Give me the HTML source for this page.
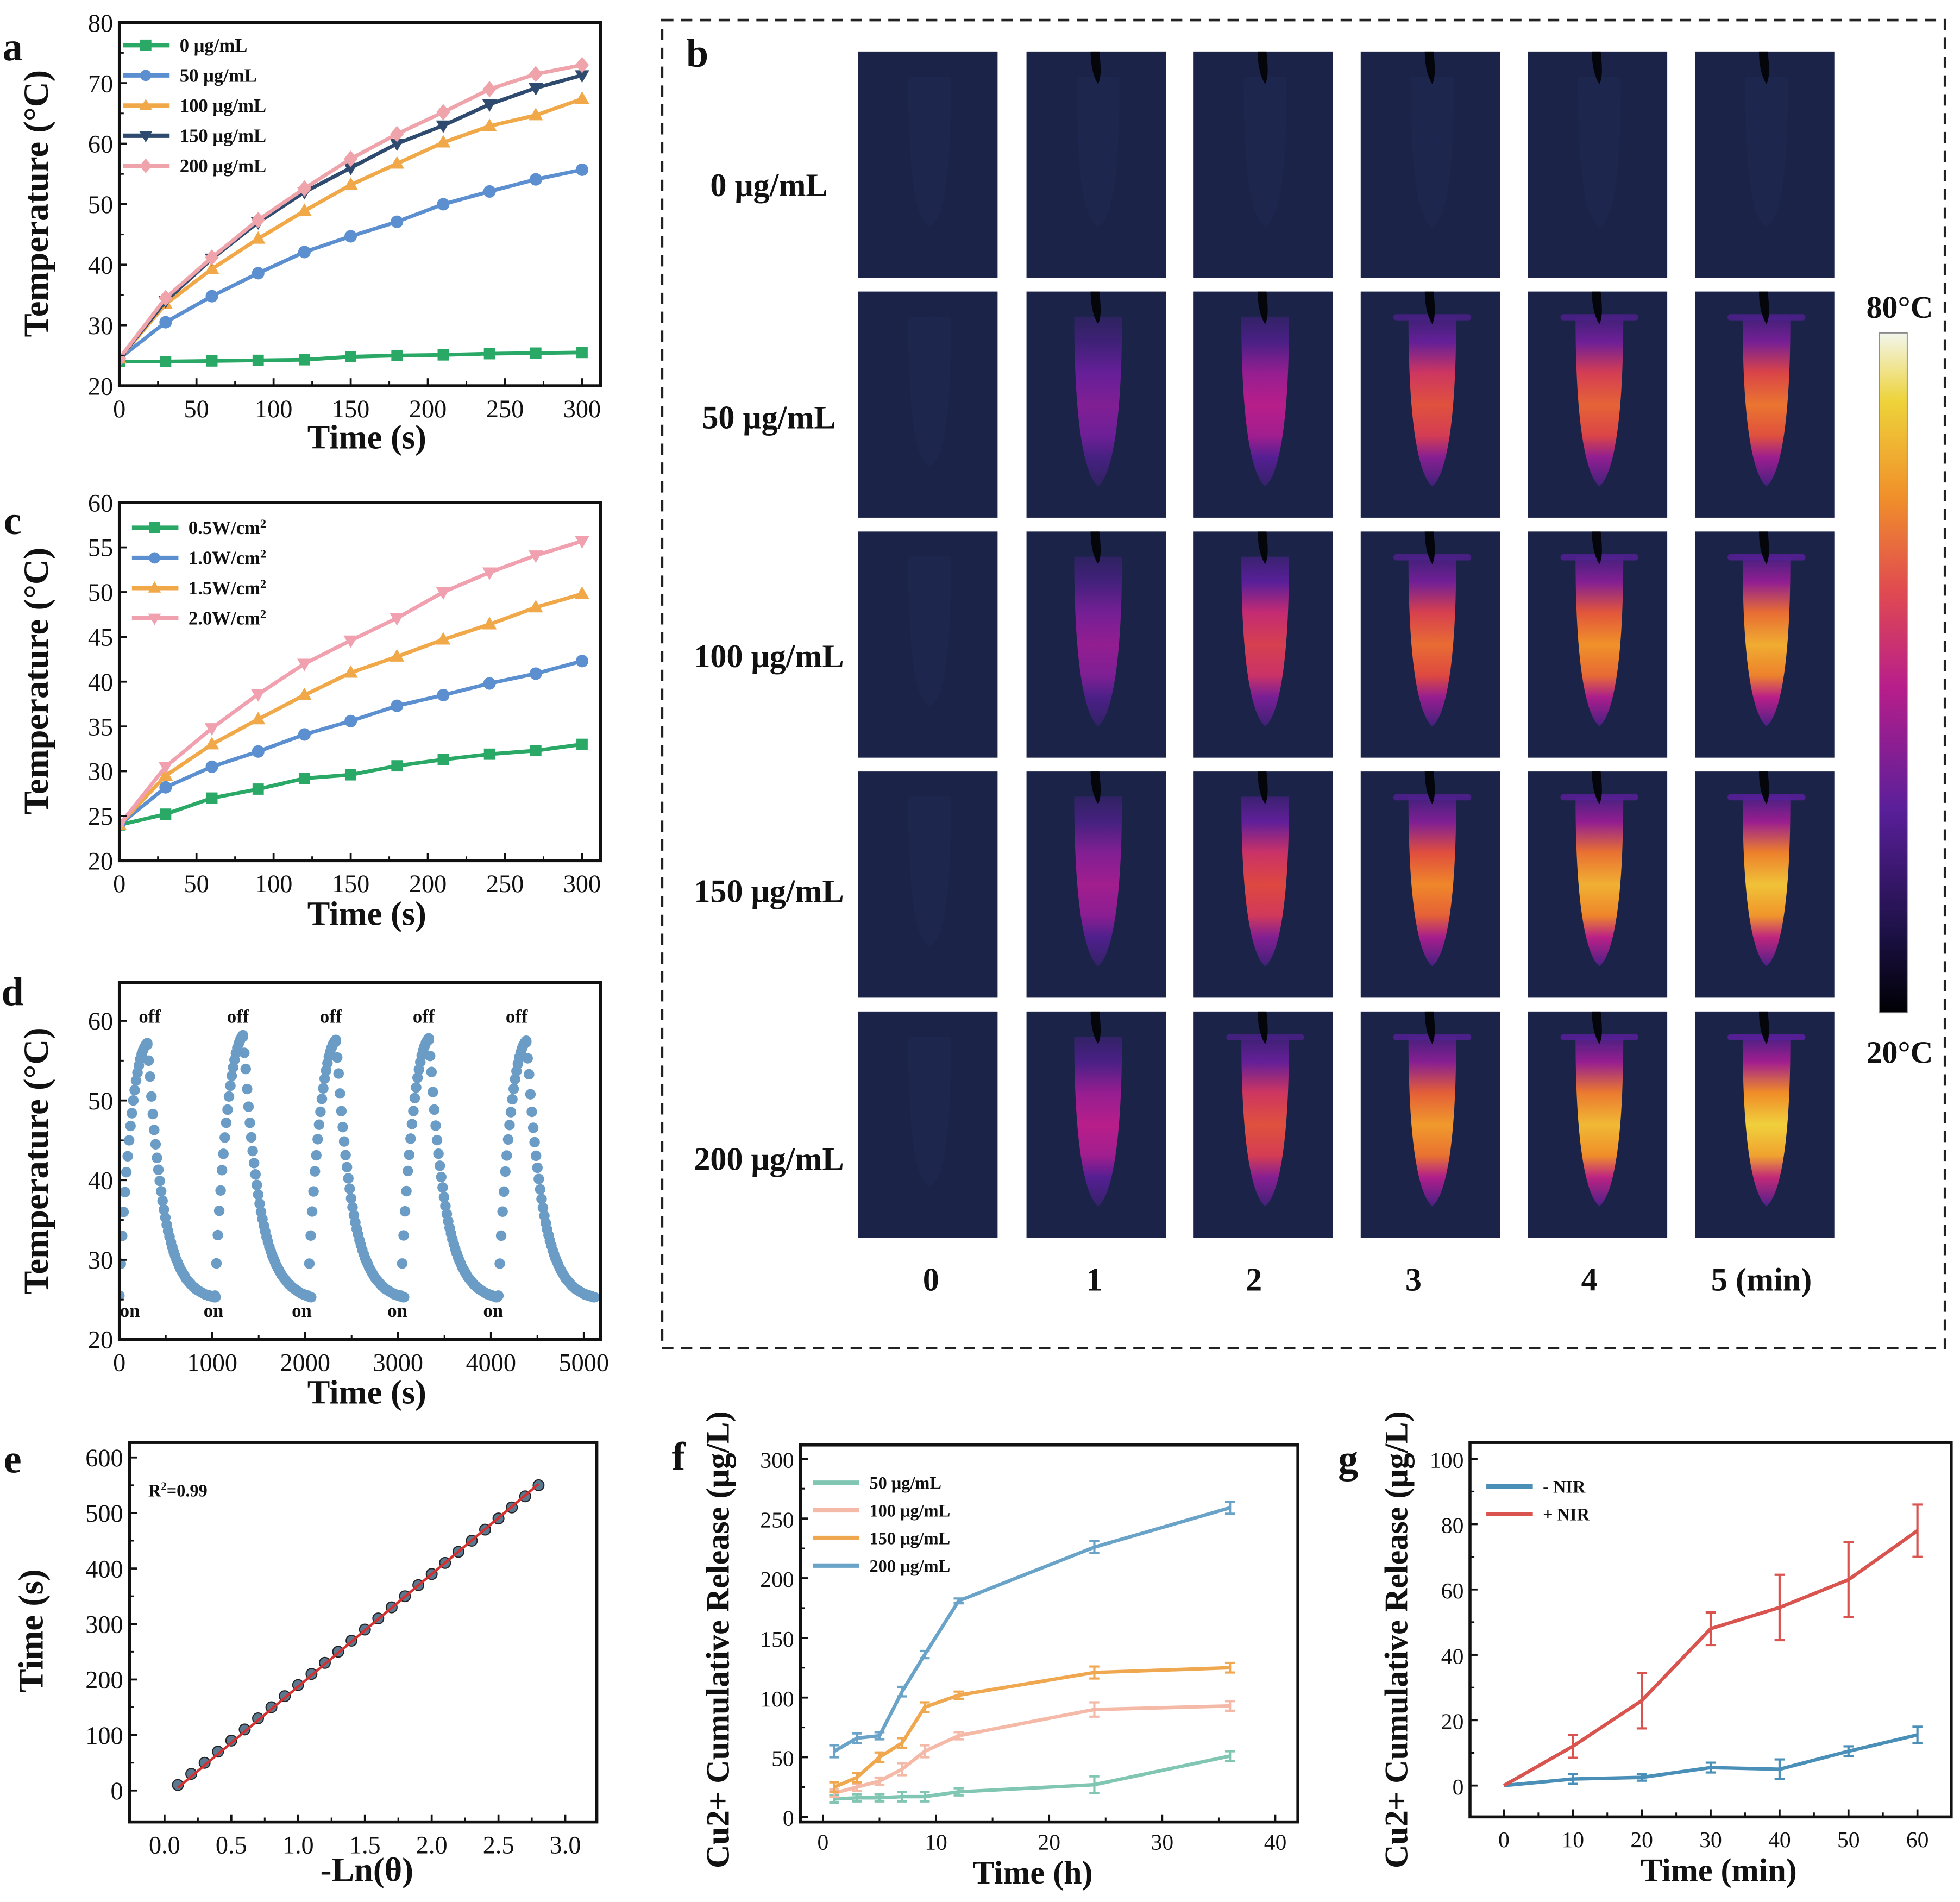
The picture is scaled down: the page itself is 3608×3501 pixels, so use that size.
<!DOCTYPE html>
<html><head><meta charset="utf-8"><style>
html,body{margin:0;padding:0;background:#fff}
svg{display:block}
text{font-family:"Liberation Serif",serif}
</style></head><body>
<svg id="fig" xmlns="http://www.w3.org/2000/svg" width="3608" height="3501" viewBox="0 0 1560 1513.7">
<rect x="0" y="0" width="1560" height="1514" fill="#fff"/>
<defs id="defs"></defs>
</svg>
<script>
// ---------- DATA ----------
const aTime=[0,30,60,90,120,150,180,210,240,270,300];
const aC0=[24,24,24.1,24.2,24.3,24.8,25,25.1,25.3,25.4,25.5];
const aC50=[24.5,30.5,34.8,38.6,42.1,44.7,47.1,50,52.1,54.1,55.7];
const aC100=[24.5,33.5,39.3,44.3,48.9,53.2,56.7,60.2,62.9,64.7,67.4];
const aC150=[24.5,34,41,47,52,56,60,63,66.5,69.2,71.3];
const aC200=[24.5,34.5,41.2,47.4,52.6,57.5,61.6,65.2,69,71.5,73];
const aLabels=['0 μg/mL','50 μg/mL','100 μg/mL','150 μg/mL','200 μg/mL'];

const cTime=[0,30,60,90,120,150,180,210,240,270,300];
const cP05=[24,25.2,27,28,29.2,29.6,30.6,31.3,31.9,32.3,33];
const cP10=[24,28.2,30.5,32.2,34.1,35.6,37.3,38.5,39.8,40.9,42.3];
const cP15=[24,29.5,33,35.8,38.5,41,42.8,44.7,46.4,48.3,49.8];
const cP20=[24,30.5,34.8,38.6,42,44.6,47.1,50,52.2,54.1,55.7];
const cLabels=['0.5W/cm','1.0W/cm','1.5W/cm','2.0W/cm'];

const dCycleStart=[0,1030,2030,3030,4080];
const dHeat=[25.5,29.5,33,36,38.5,41,43,45,46.8,48.4,50,51.3,52.5,53.5,54.4,55.2,55.8,56.3,56.7,57,57.2];
const dCool=[57,55,53,50.5,48.3,46.3,44.5,42.8,41.3,39.9,38.6,37.4,36.3,35.3,34.4,33.6,32.9,32.2,31.6,31,30.5,30,29.6,29.2,28.8,28.5,28.2,27.9,27.6,27.4,27.2,27,26.8,26.6,26.5,26.3,26.2,26.1,26,25.9,25.8,25.7,25.6,25.6,25.5,25.5,25.4,25.4,25.3,25.3];
const dPeakOffset=[0,1,0.4,0.6,0.3];
const dOffLabelX=[300,1250,2250,3250,4250];
const dOnLabelX=[100,1000,1950,2980,4010];

const eX=[0.1,0.2,0.3,0.4,0.5,0.6,0.7,0.8,0.9,1.0,1.1,1.2,1.3,1.4,1.5,1.6,1.7,1.8,1.9,2.0,2.1,2.2,2.3,2.4,2.5,2.6,2.7,2.8];
const eY=[10,30,50,70,90,110,130,150,170,190,210,230,250,270,290,310,330,350,370,390,410,430,450,470,490,510,530,550];
const eFit=[[0.1,5],[2.8,552]];

const fTime=[1,3,5,7,9,12,24,36];
const f50=[15,16,16,17,17,21,27,51];
const f50e=[3,3,3,4,4,3,7,4];
const f100=[20,25,30,40,55,68,90,93];
const f100e=[3,3,3,5,5,3,6,4];
const f150=[25,33,50,62,92,102,121,125];
const f150e=[4,4,4,4,4,3,5,4];
const f200=[55,66,68,105,136,181,226,259];
const f200e=[5,4,3,4,3,2,5,5];
const fLabels=['50 μg/mL','100 μg/mL','150 μg/mL','200 μg/mL'];

const gTime=[0,10,20,30,40,50,60];
const gMinus=[0,2,2.5,5.5,5,10.5,15.5];
const gMinusE=[0,1.5,1,1.5,3,1.5,2.5];
const gPlus=[0,12,26,48,54.5,63,78];
const gPlusE=[0,3.5,8.5,5,10,11.5,8];

const bRowLabels=['0 μg/mL','50 μg/mL','100 μg/mL','150 μg/mL','200 μg/mL'];
const bColLabels=['0','1','2','3','4','5 (min)'];
const bIntensity=[[0,0,0,0,0,0],[0,.38,.5,.72,.76,.8],[0,.42,.66,.78,.86,.92],[0,.45,.7,.84,.93,.97],[0,.5,.72,.88,.95,1]];

// ---------- HELPERS ----------
const NS='http://www.w3.org/2000/svg';
const svg=document.getElementById('fig');
const defs=document.getElementById('defs');
function mk(tag,attrs,parent){const e=document.createElementNS(NS,tag);for(const k in attrs)e.setAttribute(k,attrs[k]);(parent||svg).appendChild(e);return e;}
function txt(s,x,y,size,opts,parent){opts=opts||{};const t=mk('text',{x:x,y:y,'font-size':size,'text-anchor':opts.anchor||'middle','font-weight':opts.bold?'bold':'normal',fill:'#111'},parent);if(opts.rot)t.setAttribute('transform','rotate(-90 '+x+' '+y+')');t.textContent=s;return t;}

function axes(name,p){
  const g=mk('g',{});
  
  
  const sx=v=>p.x0+(v-p.xmin)/(p.xmax-p.xmin)*(p.x1-p.x0);
  const sy=v=>p.y1-(v-p.ymin)/(p.ymax-p.ymin)*(p.y1-p.y0);
  const cid='clip-'+name;
  const cp=mk('clipPath',{id:cid},defs);
  mk('rect',{x:p.x0,y:p.y0,width:p.x1-p.x0,height:p.y1-p.y0},cp);
  const plot=mk('g',{'clip-path':'url(#'+cid+')'},g);
  
  
  const ax=mk('g',{},g);
  (p.xticks||[]).forEach((v,i)=>{const X=sx(v);mk('line',{x1:X,x2:X,y1:p.y1,y2:p.y1-6,stroke:'#111','stroke-width':1.6},ax);
    const t=txt(p.xlabels?p.xlabels[i]:String(v),X,p.y1+(p.xoff||25),p.fs||20,{},ax);});
  (p.xminor||[]).forEach(v=>{const X=sx(v);mk('line',{x1:X,x2:X,y1:p.y1,y2:p.y1-3.5,stroke:'#111','stroke-width':1.3},ax);});
  (p.yticks||[]).forEach((v,i)=>{const Y=sy(v);mk('line',{x1:p.x0,x2:p.x0+6,y1:Y,y2:Y,stroke:'#111','stroke-width':1.6},ax);
    const t=txt(p.ylabels?p.ylabels[i]:String(v),p.x0-5,Y+7,p.fs||20,{anchor:'end'},ax);});
  (p.yminor||[]).forEach(v=>{const Y=sy(v);mk('line',{x1:p.x0,x2:p.x0+3.5,y1:Y,y2:Y,stroke:'#111','stroke-width':1.3},ax);});
  const box=mk('rect',{x:p.x0,y:p.y0,width:p.x1-p.x0,height:p.y1-p.y0,fill:'none',stroke:'#111','stroke-width':2.4},g);
  
  
  return {sx,sy,plot,g};
}
function marker(shape,x,y,r,color,parent,stroke){
  let e;
  if(shape==='square')e=mk('rect',{x:x-r,y:y-r,width:2*r,height:2*r,fill:color},parent);
  else if(shape==='circle')e=mk('circle',{cx:x,cy:y,r:r,fill:color},parent);
  else if(shape==='up')e=mk('polygon',{points:(x)+','+(y-r*1.2)+' '+(x-r*1.15)+','+(y+r*0.8)+' '+(x+r*1.15)+','+(y+r*0.8),fill:color},parent);
  else if(shape==='down')e=mk('polygon',{points:(x)+','+(y+r*1.2)+' '+(x-r*1.15)+','+(y-r*0.8)+' '+(x+r*1.15)+','+(y-r*0.8),fill:color},parent);
  else e=mk('polygon',{points:x+','+(y-r*1.3)+' '+(x+r*1.1)+','+y+' '+x+','+(y+r*1.3)+' '+(x-r*1.1)+','+y,fill:color},parent);
  if(stroke){e.setAttribute('stroke',stroke);e.setAttribute('stroke-width',0.8);}
  return e;
}
function series(A,name,xs,ys,color,shape,r,width){
  const g=mk('g',{},A.plot);
  
  
  mk('polyline',{points:xs.map((v,i)=>A.sx(v)+','+A.sy(ys[i])).join(' '),fill:'none',stroke:color,'stroke-width':width||3,'stroke-linejoin':'round'},g);
  if(shape)xs.forEach((v,i)=>marker(shape,A.sx(v),A.sy(ys[i]),r||5,color,g));
  return g;
}
function errbars(A,name,xs,ys,es,color){
  const g=mk('g',{},A.plot);
  
  
  xs.forEach((v,i)=>{if(!es[i])return;const X=A.sx(v),Y1=A.sy(ys[i]-es[i]),Y2=A.sy(ys[i]+es[i]);
    mk('line',{x1:X,x2:X,y1:Y1,y2:Y2,stroke:color,'stroke-width':1.8},g);
    mk('line',{x1:X-4,x2:X+4,y1:Y1,y2:Y1,stroke:color,'stroke-width':1.8},g);
    mk('line',{x1:X-4,x2:X+4,y1:Y2,y2:Y2,stroke:color,'stroke-width':1.8},g);});
}
function legend(name,x,y,dy,labels,colors,shapes,fs,sup){
  const g=mk('g',{});
  
  
  labels.forEach((l,i)=>{const Y=y+i*dy;const e=mk('g',{},g);
    
    
    mk('line',{x1:x,x2:x+37,y1:Y,y2:Y,stroke:colors[i],'stroke-width':3.5},e);
    if(shapes)marker(shapes[i],x+18,Y,4.5,colors[i],e);
    const t=txt(l,x+45,Y+5,fs||15,{anchor:'start',bold:true},e);
    if(sup){const s=document.createElementNS(NS,'tspan');s.setAttribute('baseline-shift','super');s.setAttribute('font-size',(fs||15)*0.65);s.textContent='2';t.appendChild(s);}
  });
}
function label(s,x,y,size,name,rot,anchor){const t=txt(s,x,y,size,{bold:true,rot:rot,anchor:anchor});return t;}

// ---------- PANEL A ----------
const colG='#2aa866',colB='#5c8fd0',colO='#f0a848',colN='#2e4a6e',colP='#efa3aa';
const A=axes('panel-a',{x0:95,x1:478,y0:18,y1:307,xmin:0,xmax:312,ymin:20,ymax:80,xticks:[0,50,100,150,200,250,300],xminor:[25,75,125,175,225,275],yticks:[20,30,40,50,60,70,80],yminor:[25,35,45,55,65,75]});
series(A,'series-0ugml',aTime,aC0,colG,'square',4.5);
series(A,'series-50ugml',aTime,aC50,colB,'circle',5);
series(A,'series-100ugml',aTime,aC100,colO,'up',5);
series(A,'series-150ugml',aTime,aC150,colN,'down',5);
series(A,'series-200ugml',aTime,aC200,colP,'diamond',5);
legend('legend-a',98,36,24,aLabels,[colG,colB,colO,colN,colP],['square','circle','up','down','diamond'],15);
label('a',10,48,32,'panel-label-a');
label('Temperature (°C)',38,162,28,'y-axis-title-a',true);
label('Time (s)',292,357,27,'x-axis-title-a');

// ---------- PANEL C ----------
const C=axes('panel-c',{x0:95,x1:478,y0:400,y1:685,xmin:0,xmax:312,ymin:20,ymax:60,xticks:[0,50,100,150,200,250,300],xminor:[25,75,125,175,225,275],yticks:[20,25,30,35,40,45,50,55,60]});
series(C,'series-0.5w',cTime,cP05,colG,'square',4.5);
series(C,'series-1.0w',cTime,cP10,colB,'circle',5);
series(C,'series-1.5w',cTime,cP15,colO,'up',5);
series(C,'series-2.0w',cTime,cP20,'#f0a0ae','down',5);
legend('legend-c',105,420,24,cLabels,[colG,colB,colO,'#f0a0ae'],['square','circle','up','down'],15,true);
label('c',10,425,32,'panel-label-c');
label('Temperature (°C)',38,542,28,'y-axis-title-c',true);
label('Time (s)',292,736,27,'x-axis-title-c');

// ---------- PANEL D ----------
const D=axes('panel-d',{x0:95,x1:478,y0:782,y1:1066,xmin:0,xmax:5180,ymin:20,ymax:64.8,xticks:[0,1000,2000,3000,4000,5000],xminor:[500,1500,2500,3500,4500],yticks:[20,30,40,50,60],yminor:[25,35,45,55]});
dCycleStart.forEach((t0,c)=>{
  const g=mk('g',{},D.plot);
  
  
  dHeat.forEach((v,i)=>mk('circle',{cx:D.sx(t0+i*15),cy:D.sy(v+dPeakOffset[c]*i/20),r:4.2,fill:'#6a9cc6'},g));
  dCool.forEach((v,i)=>mk('circle',{cx:D.sx(t0+300+i*15),cy:D.sy(v+dPeakOffset[c]*(1-i/49)),r:4.2,fill:'#6a9cc6'},g));
});
dOffLabelX.forEach(x=>{const t=txt('off',D.sx(x)+2,814,15,{bold:true});});
dOnLabelX.forEach(x=>{const t=txt('on',D.sx(x)+1,1048,15,{bold:true});});
label('d',10,800,32,'panel-label-d');
label('Temperature (°C)',38,924,28,'y-axis-title-d',true);
label('Time (s)',292,1117,27,'x-axis-title-d');

// ---------- PANEL E ----------
const E=axes('panel-e',{x0:103,x1:475,y0:1148,y1:1450,xmin:-0.263,xmax:3.236,ymin:-56.6,ymax:627,xticks:[0,0.5,1,1.5,2,2.5,3],xlabels:['0.0','0.5','1.0','1.5','2.0','2.5','3.0'],xminor:[0.25,0.75,1.25,1.75,2.25,2.75],yticks:[0,100,200,300,400,500,600],yminor:[50,150,250,350,450,550]});
(function(){const g=mk('g',{},E.plot);
  
  
  eX.forEach((v,i)=>mk('circle',{cx:E.sx(v),cy:E.sy(eY[i]),r:4.3,fill:'#5a7890',stroke:'#222','stroke-width':0.9},g));
  const l=mk('line',{x1:E.sx(eFit[0][0]),y1:E.sy(eFit[0][1]),x2:E.sx(eFit[1][0]),y2:E.sy(eFit[1][1]),stroke:'#d43030','stroke-width':2},g);
  
  
})();
(function(){const t=txt('R',118,1191,14,{anchor:'start',bold:true});
  const s=document.createElementNS(NS,'tspan');s.setAttribute('baseline-shift','super');s.setAttribute('font-size',9);s.textContent='2';t.appendChild(s);
  const s2=document.createElementNS(NS,'tspan');s2.textContent='=0.99';t.appendChild(s2);})();
label('e',10,1172,32,'panel-label-e');
label('Time (s)',34,1298,28,'y-axis-title-e',true);
label('-Ln(θ)',292,1497,27,'x-axis-title-e');

// ---------- PANEL F ----------
const F=axes('panel-f',{x0:637,x1:1033,y0:1150,y1:1450,xmin:-2,xmax:42,ymin:-4.2,ymax:311.6,xticks:[0,10,20,30,40],xminor:[5,15,25,35],yticks:[0,50,100,150,200,250,300],yminor:[25,75,125,175,225,275],fs:18,xoff:22});
const fc=['#80c6b2','#f5b9a8','#f0a850','#6aa3c8'];
[[f50,f50e],[f100,f100e],[f150,f150e],[f200,f200e]].forEach((s,i)=>{errbars(F,'errorbars-f-'+i,fTime,s[0],s[1],fc[i]);series(F,'series-f-'+fLabels[i].split(' ')[0]+'ugml',fTime,s[0],fc[i],null,0,2.8);});
legend('legend-f',647,1180,22,fLabels,fc,null,14);
label('f',540,1170,32,'panel-label-f');
label('Cu2+ Cumulative Release (μg/L)',580,1305,26,'y-axis-title-f',true);
label('Time (h)',822,1499,26,'x-axis-title-f');

// ---------- PANEL G ----------
const G=axes('panel-g',{x0:1170,x1:1553,y0:1148,y1:1446,xmin:-4.92,xmax:64.9,ymin:-9.6,ymax:105,xticks:[0,10,20,30,40,50,60],xminor:[5,15,25,35,45,55],yticks:[0,20,40,60,80,100],yminor:[10,30,50,70,90],fs:18,xoff:24});
errbars(G,'errorbars-minus-nir',gTime,gMinus,gMinusE,'#4a8fb8');
series(G,'series-minus-nir',gTime,gMinus,'#4a8fb8',null,0,2.8);
errbars(G,'errorbars-plus-nir',gTime,gPlus,gPlusE,'#d9534f');
series(G,'series-plus-nir',gTime,gPlus,'#d9534f',null,0,2.8);
legend('legend-g',1183,1183,22,['- NIR','+ NIR'],['#4a8fb8','#d9534f'],null,14);
label('g',1073,1172,32,'panel-label-g');
label('Cu2+ Cumulative Release (μg/L)',1120,1305,26,'y-axis-title-g',true);
label('Time (min)',1368,1497,26,'x-axis-title-g');

// ---------- PANEL B ----------
(function(){
  const frame=mk('rect',{x:527,y:16,width:1021,height:1057,fill:'none',stroke:'#222','stroke-width':2,'stroke-dasharray':'9 6'});
  
  
  label('b',555,53,32,'panel-label-b');
  const stops=[[0,[27,36,72]],[0.3,[90,31,154]],[0.5,[184,30,138]],[0.7,[222,72,64]],[0.85,[240,140,40]],[1,[240,208,60]]];
  function cmap(t){t=Math.max(0,Math.min(1,t));for(let i=1;i<stops.length;i++){if(t<=stops[i][0]){const a=stops[i-1],b=stops[i],f=(t-a[0])/(b[0]-a[0]);return 'rgb('+a[1].map((c,k)=>Math.round(c+(b[1][k]-c)*f)).join(',')+')';}}return 'rgb(240,208,60)';}
  const colX=[683,817,950,1083,1216,1349], rowY=[41,232,423,614,805], W=111, H=180;
  const grid=mk('g',{});
  
  
  bIntensity.forEach((row,r)=>row.forEach((I,c)=>{
    const x=colX[c],y=rowY[r];
    const cell=mk('g',{},grid);
    
    
    mk('rect',{x:x,y:y,width:W,height:H,fill:'#1b2448'},cell);
    const gid='tg'+r+'_'+c;
    const lg=mk('linearGradient',{id:gid,x1:0,y1:0,x2:0,y2:1},defs);
    [[0,0.22],[0.15,0.45],[0.33,0.85],[0.52,1],[0.7,0.9],[0.83,0.55],[1,0.25]].forEach(s=>mk('stop',{offset:s[0],'stop-color':I>0?cmap(I*s[1]):'#1f2a55'},lg));
    const cx=x+57, topY=y+20, botY=y+(I>0?155:140), hw=I>0?19:17;
    mk('path',{d:'M'+(cx-hw)+','+topY+' L'+(cx+hw)+','+topY+' C'+(cx+hw)+','+(y+110)+' '+(cx+10)+','+(botY-8)+' '+cx+','+botY+' C'+(cx-10)+','+(botY-8)+' '+(cx-hw)+','+(y+110)+' '+(cx-hw)+','+topY+' Z',fill:'url(#'+gid+')',opacity:I>0?1:0.45},cell);
    if(I>0.7)mk('rect',{x:cx-hw-12,y:topY-2,width:2*hw+24,height:5,rx:2.5,fill:cmap(I*0.3),opacity:0.9},cell);
    if(c>0)mk('path',{d:'M'+(cx-6)+','+y+' L'+(cx+1)+','+y+' C'+(cx+2)+','+(y+10)+' '+(cx+3)+','+(y+20)+' '+(cx)+','+(y+26)+' C'+(cx-4)+','+(y+20)+' '+(cx-6)+','+(y+10)+' '+(cx-6)+','+y+' Z',fill:'#05060c'},cell);
  }));
  bRowLabels.forEach((l,i)=>{const t=txt(l,612,[156,341,531,718,931][i],26,{bold:true});});
  bColLabels.forEach((l,i)=>{const t=txt(l,[741,871,998,1125,1265,1402][i],1027,26,{bold:true});});
  const cb=mk('linearGradient',{id:'cbar',x1:0,y1:1,x2:0,y2:0},defs);
  [[0,'#000004'],[0.12,'#1d1147'],[0.3,'#5a1f9a'],[0.48,'#b81e8a'],[0.62,'#e04a50'],[0.76,'#f0902a'],[0.9,'#eed33a'],[1,'#f2f6ec']].forEach(s=>mk('stop',{offset:s[0],'stop-color':s[1]},cb));
  const bar=mk('rect',{x:1496,y:265,width:22,height:541,fill:'url(#cbar)',stroke:'#888','stroke-width':0.8});
  
  
  label('80°C',1512,253,25,'colorbar-max-label');
  label('20°C',1512,846,25,'colorbar-min-label');
})();
</script>
</body></html>
